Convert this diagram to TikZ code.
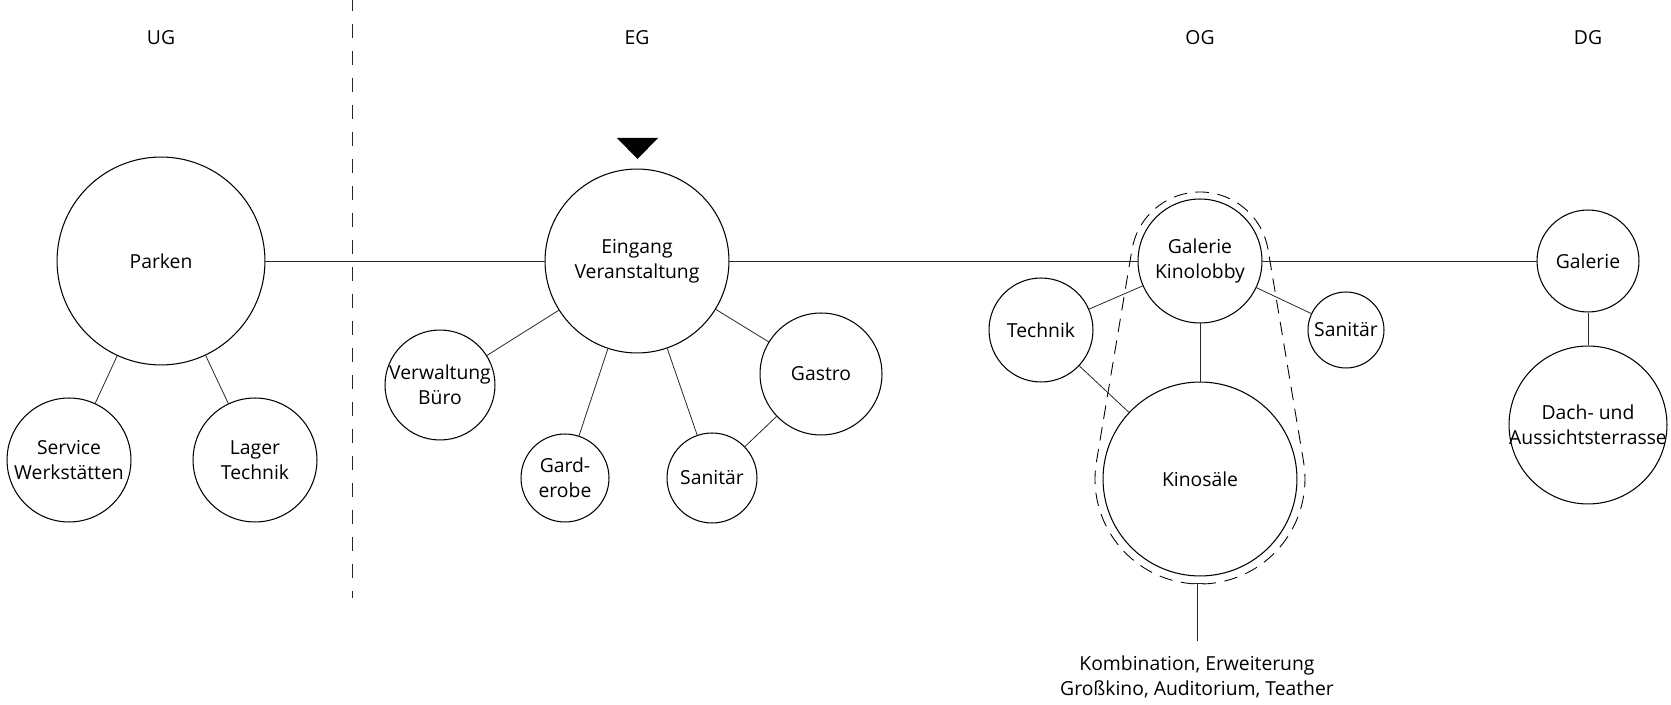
\documentclass[tikz,border=0pt]{standalone}
\usepackage{fontspec}
\setmainfont{Open Sans}
\usetikzlibrary{arrows.meta}
\usetikzlibrary{calc}
\tikzset{
  raum/.style={circle, draw, line width=0.6pt, inner sep=-4pt, align=center, minimum size=#1*0.04cm},
  verb/.style={draw=black!85, line width=0.45pt}
}

\begin{document}
\begin{tikzpicture}[x=0.02cm, y=0.02cm, font=\fontsize{11}{14.2}\selectfont]
\useasboundingbox (0,0) rectangle (1671,-705);

\draw[verb, dash pattern=on 0.28cm off 0.26cm, dash phase=0.06cm] (352,0) -- (352,-598);

\node (ug) at (161,-38) {UG};
\node (eg) at (637,-38) {EG};
\node (og) at (1200,-38) {OG};
\node (dg) at (1588,-38) {DG};

\node[raum=104] (parken) at (161,-261) {Parken};
\node[raum=62] (service) at (69,-460) {Service\\Werkstätten};
\node[raum=62] (lager) at (255,-460) {Lager\\Technik};

\node[raum=92] (eingang) at (637,-261) {Eingang\\Veranstaltung};
\node[raum=55] (verwaltung) at (440,-385) {Verwaltung\\Büro};
\node[raum=44] (garderobe) at (565,-478) {Gard-\\erobe};
\node[raum=45] (sanitaereg) at (712,-478) {Sanitär};
\node[raum=61] (gastro) at (821,-374) {Gastro};
\fill (617,-138) -- (658,-138) -- (637.5,-159) -- cycle;

\node[raum=62] (lobby) at (1200,-261) {Galerie\\Kinolobby};
\node[raum=52] (technik) at (1041,-330) {Technik};
\node[raum=38] (sanitaerog) at (1346,-330) {Sanitär};
\node[raum=97] (kino) at (1200,-479) {Kinosäle};

\node[raum=51] (galerie) at (1588,-261) {Galerie};
\node[raum=79] (dach) at (1588,-425) {Dach- und\\Aussichtsterrasse};

\foreach \a/\b in {parken/service, parken/lager, parken/eingang, eingang/verwaltung, eingang/garderobe, eingang/sanitaereg, eingang/gastro, gastro/sanitaereg, eingang/lobby, lobby/technik, lobby/sanitaerog, lobby/kino, technik/kino, lobby/galerie, galerie/dach}
  \draw[verb] (\a) -- (\b);

\draw[line width=0.5pt, dash pattern=on 0.27cm off 0.17cm] ($(lobby.center)+(9.5:69)$) arc[start angle=9.5, end angle=170.5, radius=69] -- ($(kino.center)+(170.5:105)$) arc[start angle=170.5, end angle=369.5, radius=105] -- cycle;

\coordinate (kinoende) at (1197,-583);
\node[anchor=north, inner sep=8pt, align=center] (zusatz) at (1197,-641) {Kombination, Erweiterung\\Großkino, Auditorium, Teather};
\draw[verb, {Bar[width=0.28cm]}-] (kinoende) -- (zusatz);

\end{tikzpicture}
\end{document}
